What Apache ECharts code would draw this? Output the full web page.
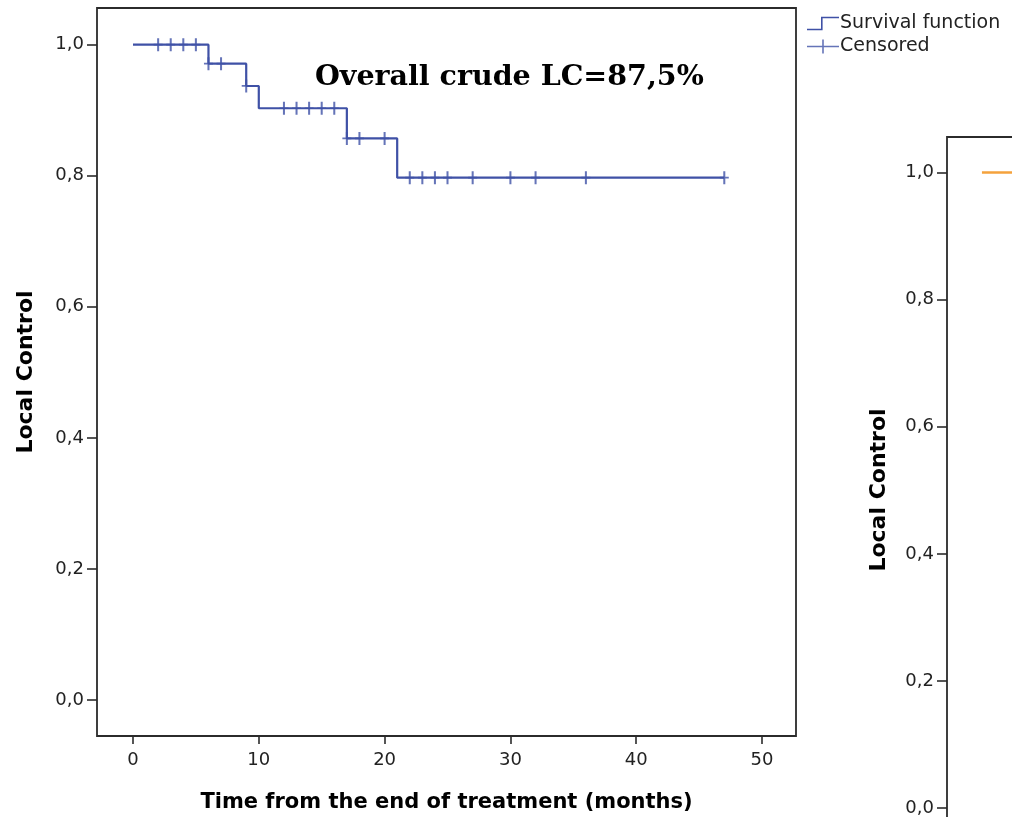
<!DOCTYPE html>
<html>
<head>
<meta charset="utf-8">
<script src="https://cdn.jsdelivr.net/npm/echarts@6/dist/echarts.min.js"></script>
<style>
  html, body { margin: 0; padding: 0; background: #fff; }
  #chart { width: 1012px; height: 817px; }
</style>
</head>
<body>
<div id="chart"></div>
<script>
// Kaplan-Meier local control estimate (step function)
const eventTimes = [0, 6, 9, 10, 17, 21, 47];
const survival = [1.0, 0.971, 0.937, 0.903, 0.857, 0.797, 0.797];
// Censored observations (months)
const censoredTimes = [2, 3, 4, 5, 6, 7, 9, 12, 13, 14, 15, 16, 17, 18, 20, 22, 23, 24, 25, 27, 30, 32, 36, 47];
// Second panel: curve visible at its start
const panel2Times = [0, 3];
const panel2Survival = [1.0, 1.0];

const xTicks = [0, 10, 20, 30, 40, 50];
const yTicks = [0.0, 0.2, 0.4, 0.6, 0.8, 1.0];
const annotation = 'Overall crude LC=87,5%';

// value of the step function at time t
function survivalAt(t) {
  let s = survival[0];
  for (let i = 0; i < eventTimes.length; i++) {
    if (eventTimes[i] <= t) s = survival[i];
  }
  return s;
}

const blue = '#3f51a6';
const orange = '#f4a23c';
const axisColor = '#2b2b2b';
const tickFont = { fontFamily: 'DejaVu Sans', fontSize: 18, color: '#222' };
const titleFont = { fontFamily: 'DejaVu Sans', fontWeight: 'bold', color: '#000' };

const X_MIN = -2.86, X_MAX = 52.7, Y_MIN = -0.055, Y_MAX = 1.056;

function xAxisCfg(gridIndex) {
  return {
    type: 'value', gridIndex: gridIndex, min: X_MIN, max: X_MAX,
    splitLine: { show: false },
    axisLine: { show: false, onZero: false },
    axisTick: { show: true, inside: false, length: 8, customValues: xTicks, lineStyle: { color: axisColor, width: 1.6 } },
    axisLabel: Object.assign({ customValues: xTicks, margin: 15 }, tickFont),
    name: 'Time from the end of treatment (months)',
    nameLocation: 'middle', nameGap: 56,
    nameTextStyle: Object.assign({ fontSize: 21 }, titleFont)
  };
}
function yAxisCfg(gridIndex, gap) {
  return {
    type: 'value', gridIndex: gridIndex, min: Y_MIN, max: Y_MAX,
    splitLine: { show: false },
    axisLine: { show: false, onZero: false },
    axisTick: { show: true, inside: false, length: 10, customValues: yTicks, lineStyle: { color: axisColor, width: 1.6 } },
    axisLabel: Object.assign({
      customValues: yTicks, margin: 13,
      formatter: v => v.toFixed(1).replace('.', ',')
    }, tickFont),
    name: 'Local Control',
    nameLocation: 'middle', nameGap: gap, nameRotate: 90,
    nameTextStyle: Object.assign({ fontSize: 22 }, titleFont)
  };
}

const plusPath = 'path://M3.1,0 H4.9 V5.2 H8 V6.8 H4.9 V12 H3.1 V6.8 H0 V5.2 H3.1 Z';
const stepIcon = 'path://M0,12 H14 V0 H32 V1.6 H15.6 V13.6 H0 Z';
const censorIcon = 'path://M0,6.2 H15.2 V0 H16.8 V6.2 H32 V7.8 H16.8 V14 H15.2 V7.8 H0 Z';

const chart = echarts.init(document.getElementById('chart'), null, { renderer: 'canvas' });
chart.setOption({
  backgroundColor: '#fff',
  animation: false,
  grid: [
    { left: 97, top: 8, width: 699, height: 728, show: true, borderColor: axisColor, borderWidth: 1.8, backgroundColor: 'transparent', containLabel: false, outerBoundsMode: 'none' },
    { left: 947, top: 137, width: 679, height: 706, show: true, borderColor: axisColor, borderWidth: 1.8, backgroundColor: 'transparent', containLabel: false, outerBoundsMode: 'none' }
  ],
  xAxis: [xAxisCfg(0), xAxisCfg(1)],
  yAxis: [yAxisCfg(0, 60), yAxisCfg(1, 57)],
  legend: {
    orient: 'vertical', left: 802, top: 9, itemGap: 4,
    itemWidth: 32, itemHeight: 14,
    textStyle: { fontFamily: 'DejaVu Sans', fontSize: 19, color: '#222', padding: [0, 0, 0, -4] },
    data: [
      { name: 'Survival function', icon: stepIcon, itemStyle: { color: blue } },
      { name: 'Censored', icon: censorIcon, itemStyle: { color: blue } }
    ]
  },
  graphic: [{
    type: 'text', left: 315, top: 63,
    style: { text: annotation, fontFamily: 'DejaVu Serif', fontWeight: 'bold', fontSize: 28.5, fill: '#000' }
  }],
  series: [
    {
      name: 'Survival function', type: 'line', step: 'end',
      xAxisIndex: 0, yAxisIndex: 0,
      data: eventTimes.map((t, i) => [t, survival[i]]),
      showSymbol: false, symbol: 'none',
      lineStyle: { color: blue, width: 2.2 },
      itemStyle: { color: blue }
    },
    {
      name: 'Censored', type: 'scatter',
      xAxisIndex: 0, yAxisIndex: 0,
      data: censoredTimes.map(t => [t, survivalAt(t)]),
      symbol: plusPath, symbolSize: [9, 13],
      itemStyle: { color: blue }
    },
    {
      name: 'Group survival', type: 'line', step: 'end',
      xAxisIndex: 1, yAxisIndex: 1,
      data: panel2Times.map((t, i) => [t, panel2Survival[i]]),
      showSymbol: false, symbol: 'none',
      lineStyle: { color: orange, width: 2.5 }
    }
  ]
});
</script>
</body>
</html>
